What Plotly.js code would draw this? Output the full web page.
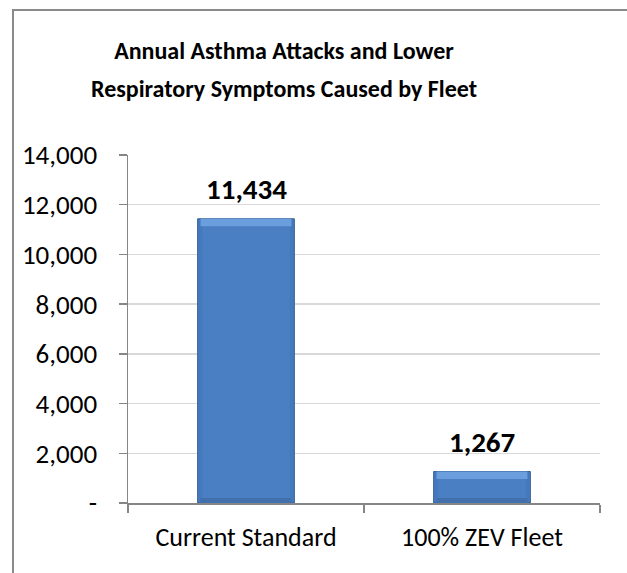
<!DOCTYPE html>
<html>
<head>
<meta charset="utf-8">
<script src="https://cdn.plot.ly/plotly-3.0.1.min.js"></script>
<style>
html,body{margin:0;padding:0;background:#fff;}
#wrap{position:relative;width:627px;height:573px;overflow:hidden;}
#chart{width:627px;height:573px;}
#frame{position:absolute;left:12px;top:9px;width:700px;height:700px;border:2px solid #8a8a8a;pointer-events:none;box-sizing:border-box;}
</style>
</head>
<body>
<div id="wrap"><div id="chart"></div><div id="frame"></div></div>
<script>
var categories = ["Current Standard", "100% ZEV Fleet"];
var values = [11434, 1267];
var valueLabels = ["11,434", "1,267"];
var yTickVals = [0, 2000, 4000, 6000, 8000, 10000, 12000, 14000];
var yTickText = ["-", "2,000", "4,000", "6,000", "8,000", "10,000", "12,000", "14,000"];
var titleLine1 = "Annual Asthma Attacks and Lower";
var titleLine2 = "Respiratory Symptoms Caused by Fleet";

var FONT = "Calibri, Carlito, Lato, 'Open Sans', sans-serif";
var bevelTop = 300;
var bevelBottom = 200;

var mainBar = {
  type: "bar", x: categories, y: values,
  marker: {color: "#4479bd", line: {color: "#3a6397", width: 1}},
  width: 0.41, hoverinfo: "skip"
};
var bodyBar = {
  type: "bar", x: categories,
  y: values.map(function(v){ return v - bevelTop - bevelBottom; }),
  base: values.map(function(){ return bevelBottom; }),
  marker: {color: "#4a80c3", line: {width: 0}},
  width: 0.37, hoverinfo: "skip"
};
var topBevel = {
  type: "bar", x: categories,
  y: values.map(function(){ return bevelTop; }),
  base: values.map(function(v){ return v - bevelTop; }),
  marker: {color: "#6a9edd", line: {width: 0}},
  width: 0.385, hoverinfo: "skip"
};
var bottomBevel = {
  type: "bar", x: categories,
  y: values.map(function(){ return bevelBottom; }),
  base: values.map(function(){ return 0; }),
  marker: {color: "#4170ad", line: {width: 0}},
  width: 0.385, hoverinfo: "skip"
};

var annotations = categories.map(function(c, i){
  return {x: c, y: values[i], xref: "x", yref: "y", text: "<b>" + valueLabels[i] + "</b>",
    showarrow: false, yanchor: "bottom", yshift: 10,
    font: {family: FONT, size: 29, color: "#000"}};
});
annotations.push({x: 0.3305, y: 1.2385, xref: "paper", yref: "paper", xanchor: "center", yanchor: "top",
  text: "<b>" + titleLine2 + "</b>", showarrow: false,
  font: {family: FONT, size: 24, color: "#000"}});

var layout = {
  width: 627, height: 573,
  margin: {l: 128, r: 27, t: 155, b: 70},
  paper_bgcolor: "#fff", plot_bgcolor: "#fff",
  showlegend: false, barmode: "overlay",
  title: {text: "<b>" + titleLine1 + "</b>", x: 0.3305, xref: "paper", xanchor: "center",
    y: 0.926, yref: "container", yanchor: "top",
    font: {family: FONT, size: 24, color: "#000"}},
  xaxis: {type: "category", showline: true, linecolor: "#868686", linewidth: 1.5,
    ticks: "outside", ticklen: 8, tickcolor: "#868686", tickwidth: 1.5,
    tickson: "boundaries", showgrid: false,
    tickfont: {family: FONT, size: 26, color: "#000"}, ticklabelstandoff: 10},
  yaxis: {range: [0, 14000], tickvals: yTickVals, ticktext: yTickText,
    showline: true, linecolor: "#868686", linewidth: 1.5,
    ticks: "outside", ticklen: 8, tickcolor: "#868686", tickwidth: 1.5,
    showgrid: true, gridcolor: "#d9d9d9", gridwidth: 1.5, zeroline: false,
    tickfont: {family: FONT, size: 27, color: "#000"}, ticklabelstandoff: 16},
  annotations: annotations
};

Plotly.newPlot("chart", [mainBar, bodyBar, topBevel, bottomBevel], layout, {displayModeBar: false, staticPlot: true});
</script>
</body>
</html>
